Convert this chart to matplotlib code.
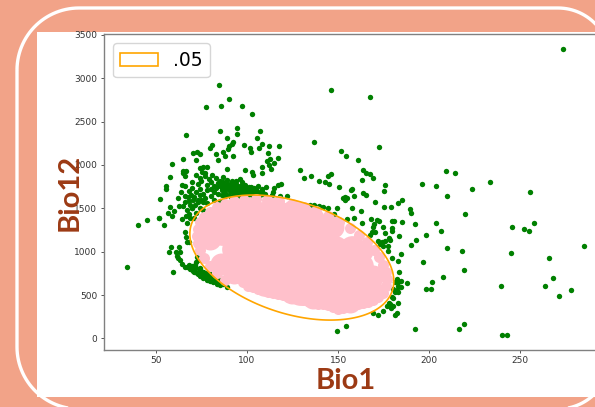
#!/usr/bin/env python3
import numpy as np
import matplotlib
matplotlib.use('Agg')
import matplotlib.pyplot as plt
from matplotlib.patches import Rectangle, Polygon

# green points (region by region)
upper_x = [84.6, 89.9, 77.5, 85.5, 97, 102.9, 66.5, 85.1, 94.3, 94.6, 107.1, 89, 105.3,
           92.1, 91.7, 80.7, 79.6, 90.1, 89.4, 98.1, 108.2, 112, 117.7,
           101.6, 102.2, 106.7, 111.3, 70.5, 72.3, 74, 82.9, 87, 88,
           92.1, 84.2, 71.8, 65, 59, 112.6, 110.8, 117.1, 114.8, 112.2,
           108, 113, 89.1, 98.7, 102.5, 103.4, 108.4, 57.7, 65, 66.5,
           64.7, 65.8, 64.3, 55.5, 55.5, 52, 74.2, 76, 78.2, 75.1, 76.9,
           117.1, 118.6, 106.2, 110.2, 115, 114.4, 109.8, 118.1, 122.1, 113.5]
upper_y = [2923, 2765, 2666, 2681, 2684, 2585, 2350, 2392, 2423, 2358, 2389, 2311, 2308,
           2269, 2242, 2231, 2196, 2219, 2185, 2231, 2242, 2219, 2219,
           2193, 2146, 2196, 2135, 2142, 2153, 2123, 2123, 2153, 2107,
           2104, 2058, 2058, 2065, 2015, 2065, 2049, 2077, 2026, 2000,
           1980, 1957, 1954, 1946, 1919, 1884, 1904, 1858, 1934, 1934,
           1904, 1873, 1769, 1761, 1719, 1604, 1969, 1973, 1973, 1923, 1904,
           1769, 1777, 1761, 1742, 1731, 1692, 1665, 1642, 1642, 1654]

dense_x = [72, 74, 77, 79, 81, 83, 85, 87, 89, 91,
           70, 73, 75, 78, 80, 82, 84, 86, 88, 90,
           92, 93, 94, 95, 96, 97, 98, 99, 100, 101,
           102, 103, 104, 105, 106, 107, 108, 95, 97, 99,
           68, 70, 72, 74, 76, 78, 80, 82, 84, 86,
           88, 90, 92, 94, 66, 69, 71, 73, 75, 78,
           62, 64, 66, 68, 70, 72, 74, 76, 68, 71,
           82, 85, 88, 91, 77, 80, 83, 86, 96, 94,
           87, 89, 91, 93, 95, 97, 99, 101, 103, 105,
           88, 90, 92, 94, 96, 98, 100, 102, 104, 106,
           91, 93, 95, 97, 99, 101, 103, 105, 107, 109,
           90, 92, 94, 96, 98, 100, 102, 104, 106, 108,
           84, 86, 88, 90, 92, 94, 96, 98, 100, 102]
dense_y = [1880, 1850, 1870, 1835, 1880, 1845, 1815, 1860, 1830, 1790,
           1800, 1780, 1815, 1770, 1800, 1760, 1790, 1770, 1750, 1760,
           1820, 1740, 1780, 1720, 1760, 1800, 1730, 1770, 1700, 1750,
           1720, 1680, 1740, 1700, 1670, 1650, 1700, 1690, 1660, 1640,
           1700, 1740, 1690, 1720, 1660, 1710, 1640, 1690, 1660, 1710,
           1680, 1650, 1700, 1660, 1760, 1650, 1630, 1570, 1600, 1560,
           1620, 1690, 1640, 1580, 1500, 1450, 1500, 1480, 1440, 1390,
           1600, 1590, 1640, 1630, 1620, 1720, 1740, 1650, 1840, 1810,
           1800, 1780, 1760, 1790, 1750, 1770, 1740, 1720, 1700, 1720,
           1730, 1710, 1730, 1690, 1720, 1690, 1720, 1690, 1670, 1690,
           1700, 1670, 1700, 1730, 1690, 1670, 1650, 1670, 1680, 1660,
           1730, 1760, 1750, 1720, 1760, 1680, 1750, 1710, 1640, 1720,
           1760, 1740, 1720, 1720, 1780, 1630, 1640, 1660, 1650, 1670]

left_x = [57.7, 60, 56.8, 58.6, 51.8, 54.2, 62.8, 64.7, 67.7, 65.9,
          68.7, 67.2, 69.6, 71.4, 70.5, 73.2, 76, 74.2, 66.5, 64.1,
          66.9, 68.7, 65.9, 66.5, 66.9, 68.3, 58.2, 62.6, 57.3, 61, 63.2,
          61.4, 61.9, 63.2, 64.1, 65.9, 59.5, 33.9, 40, 44.9, 51.8,
          66.9, 68.7, 70.5, 72.3, 74.2, 76, 77.8, 79.6, 81.5, 83.3, 85, 88.8,
          71.4, 74.2, 76, 77.8, 79.6, 81.5, 72.3, 72, 73.2, 79.1,
          68, 70, 72, 74, 76, 78, 80, 82, 84, 86,
          69, 71, 73, 75, 77, 79, 81, 83, 85, 87]
left_y = [1519, 1472, 1442, 1415, 1385, 1311, 1530, 1527, 1634, 1576,
          1538, 1481, 1500, 1538, 1596, 1596, 1576, 1654, 1411, 1373,
          1327, 1385, 1230, 1166, 1108, 1115, 1057, 1057, 996, 999, 996,
          953, 923, 904, 857, 826, 765, 819, 1311, 1369, 1385,
          826, 796, 780, 750, 719, 692, 673, 661, 653, 623, 610, 589,
          846, 808, 769, 750, 730, 692, 942, 884, 904, 757,
          850, 830, 815, 790, 760, 735, 715, 700, 680, 650,
          800, 770, 745, 730, 715, 690, 670, 650, 640, 625]

right_x = [273.6, 146.1, 167.7, 136.9, 172.6, 151.4, 154.5, 161.1, 128.9, 131.3,
           134.9, 145.9, 144.6, 163.9, 165.5, 167.3, 169.2, 139.5, 142.6, 144.8,
           150.6, 162.9, 175.9, 175.4, 157.4, 157, 195.9, 203.7, 209.2, 214.2,
           223.5, 233.5, 255.1, 209.8, 163.5, 165.2, 158.7, 153.8, 152.5, 155, 153.8,
           170, 185, 182.7, 134.6, 136.7, 139.7, 141.9, 144.3, 147.7,
           219.7, 189.5, 190.2, 175, 178.9, 162.5, 149.4, 157.4, 155, 158.8,
           163.3, 168.1, 171.2, 172.6, 169.9, 169.3, 168.4, 167.5, 170.2, 174.9,
           179.4, 180.7, 185.2, 179.4, 179.4, 175.8, 178.2, 183.2, 192.3, 203.7,
           206.3, 198.4, 192.9, 189.8, 209.8, 218, 245.6, 252.2, 254.9, 257.7,
           284.8, 245.1, 265.6, 268.2, 263.8, 278.1, 271.4, 239.4, 196.8, 184.8,
           179.7, 182.7, 183.6, 207.6, 218.9, 201.4, 198.1, 200.8, 192.2, 216.5,
           219, 149.6, 154.6, 240.1, 242.5, 173, 174.9, 177.6, 175.8, 178.5,
           173.9, 177.6, 172.1, 182.1, 184.8, 187.6, 183, 184.5, 182.1, 181.2,
           179.4, 180.3, 182.7, 177.9, 176.7, 179.1, 174.9, 169.4, 172.1, 181.2,
           182.1, 181.2, 183, 180.3, 183, 178.5, 180.3]
right_y = [3335, 2869, 2788, 2269, 2208, 2158, 2100, 2061, 1939, 1853,
           1876, 1896, 1876, 1939, 1911, 1896, 1853, 1815, 1800, 1777,
           1746, 1830, 1766, 1696, 1726, 1711, 1777, 1758, 1934, 1908,
           1726, 1804, 1685, 1639, 1680, 1654, 1642, 1634, 1622, 1622, 1596,
           1576, 1592, 1565, 1538, 1538, 1527, 1512, 1500, 1434,
           1431, 1492, 1442, 1515, 1515, 1466, 1504, 1504, 1380, 1385,
           1331, 1380, 1365, 1357, 1319, 1281, 1223, 1196, 1223, 1288,
           1350, 1350, 1339, 1273, 1235, 1212, 1154, 1177, 1315, 1331,
           1238, 1192, 1134, 1080, 1046, 1008, 1284, 1261, 1235, 1331,
           1069, 984, 927, 696, 604, 554, 492, 600, 884, 973,
           930, 892, 765, 704, 792, 646, 569, 565, 107, 107,
           168, 84, 138, 38, 35, 1088, 1069, 1069, 1127, 1134,
           1108, 1011, 1119, 684, 658, 642, 607, 589, 557, 531,
           473, 462, 404, 404, 376, 350, 312, 292, 269, 272,
           292, 646, 646, 569, 531, 396, 376]

# pink cloud: middle of it, the ring around that, and the outer edge
core_x = [96.1, 107.1, 118.1, 129.1,
          86.2, 97.2, 108.2, 119.2, 130.2, 141.1,
          93.4, 104.4, 115.3, 126.3, 137.3, 148.3, 157.6,
          96.1, 107.1, 118.1, 129.1, 140, 151, 162,
          109.8, 120.8, 131.8, 142.8, 153.8, 163.1,
          129.1, 140, 151, 160.9]
core_y = [1423, 1423, 1423, 1423,
          1227, 1227, 1227, 1227, 1227, 1227,
          1030, 1030, 1030, 1030, 1030, 1030, 1030,
          834, 834, 834, 834, 834, 834, 834,
          638, 638, 638, 638, 638, 638,
          534, 534, 534, 534]

ring_x = [169.4, 163.4, 147, 136.2, 124.6, 113, 102.2, 92.9, 85.8, 81.3, 79.8,
          85.8, 92.9, 102.2, 113, 124.6, 136.2, 147, 156.3, 163.4, 167.9]
ring_y = [714, 1011, 1286, 1392, 1466, 1504, 1504, 1464, 1387, 1280, 1150,
          853, 750, 700, 600, 520, 470, 450, 420, 477, 584]

edge_x = [174.9, 176.2, 176.7, 176.2, 174.9, 172.7, 169.7, 165.9, 161.4, 156.3, 150.6, 144.5,
          138, 131.4, 124.6, 117.8, 111.1, 104.7, 98.6, 92.9, 87.8, 83.3, 79.5, 76.5,
          74.3, 73, 72.5, 73, 74.3, 76.5, 79.5, 83.3, 87.8,
          95, 100.5, 106, 111.5, 117, 122.5, 128, 133.4, 138.9, 144.4, 149.9, 155.4, 160.9, 166.4, 171.9,
          97.8, 103.3, 108.8, 114.3, 119.8, 125.3, 130.7, 136.2, 141.7, 147.2, 152.7, 158.2, 163.7, 169.2]
edge_y = [527, 600, 679, 763, 848, 936, 1024, 1110, 1192, 1271, 1344, 1409,
          1467, 1515, 1553, 1581, 1598, 1603, 1597, 1579, 1550, 1511, 1462, 1404,
          1337, 1264, 1185, 1101, 1015, 928, 840, 754, 672,
          696, 604, 569, 534, 511, 477, 454, 430, 396, 384, 338, 373, 396, 419, 477,
          650, 590, 555, 525, 495, 465, 445, 415, 392, 360, 350, 385, 410, 445]

# the .05 ellipse
ell_cx, ell_cy = 124.6, 932
ell_x_amp, ell_y_cos, ell_y_sin = 56, -272, 668

x_ticks = [50, 100, 150, 200, 250]
y_ticks = [0, 500, 1000, 1500, 2000, 2500, 3000, 3500]

W, H = 595, 407
SALMON = '#F2A388'
BROWN = '#9C3A14'
GREEN = '#008000'
PINK = '#FFC0CB'


def corner(cx, cy, r, start_deg, end_deg):
    a = np.radians(np.linspace(start_deg, end_deg, 30))
    return np.column_stack([cx + r * np.cos(a), cy + r * np.sin(a)])


fig = plt.figure(figsize=(W / 100, H / 100), dpi=100, facecolor=SALMON)

# slide background, in pixels (y goes down here)
bg = fig.add_axes([0, 0, 1, 1], zorder=0)
bg.set_xlim(0, W)
bg.set_ylim(H, 0)
bg.axis('off')
bg.add_patch(Rectangle((37, 32), W - 37, 365, facecolor='white', edgecolor='none'))
outline = np.vstack([corner(79, 70, 62, 180, 270), corner(558, 60, 52, 270, 360),
                     corner(558, 357, 52, 0, 90), corner(79, 347, 62, 90, 180)])
bg.add_patch(Polygon(outline, closed=True, fill=False, edgecolor='white', linewidth=2.4))

ax = fig.add_axes([103.5 / W, (H - 349.7) / H, (600 - 103.5) / W, (349.7 - 34) / H], zorder=1)
ax.set_facecolor('white')

for xs, ys in [(upper_x, upper_y), (dense_x, dense_y), (left_x, left_y), (right_x, right_y)]:
    ax.scatter(xs, ys, s=15, color=GREEN, linewidths=0, zorder=2)

ax.scatter(core_x, core_y, s=370, color=PINK, linewidths=0, zorder=3)
ax.scatter(ring_x, ring_y, s=250, color=PINK, linewidths=0, zorder=3)
ax.scatter(edge_x, edge_y, s=63, color=PINK, linewidths=0, zorder=3)

t = np.linspace(0, 2 * np.pi, 200)
ell_x = ell_cx + ell_x_amp * np.cos(t)
ell_y = ell_cy + ell_y_cos * np.cos(t) + ell_y_sin * np.sin(t)
ax.add_patch(Polygon(np.column_stack([ell_x, ell_y]), closed=True, fill=False,
                     edgecolor='orange', linewidth=1.2, zorder=4, label='.05'))

ax.set_xlim(21.2, 293.8)
ax.set_ylim(-131, 3511)
ax.set_xticks(x_ticks)
ax.set_yticks(y_ticks)
ax.tick_params(labelsize=6.5, length=2.5, width=0.7, pad=2, color='#555555', labelcolor='#333333')
for side in ['left', 'bottom', 'top']:
    ax.spines[side].set_color('#808080')
    ax.spines[side].set_linewidth(1.0)
ax.spines['right'].set_visible(False)

ax.legend(loc='upper left', fontsize=13.5)

fig.text(70 / W, 1 - 192 / H, 'Bio12', rotation=90, ha='center', va='center',
         fontsize=21, fontweight='bold', family='Lato', color=BROWN, zorder=5)
fig.text(345.5 / W, 1 - 381 / H, 'Bio1', ha='center', va='center',
         fontsize=21, fontweight='bold', family='Lato', color=BROWN, zorder=5)

fig.savefig('out.png', dpi=100, facecolor=fig.get_facecolor())
